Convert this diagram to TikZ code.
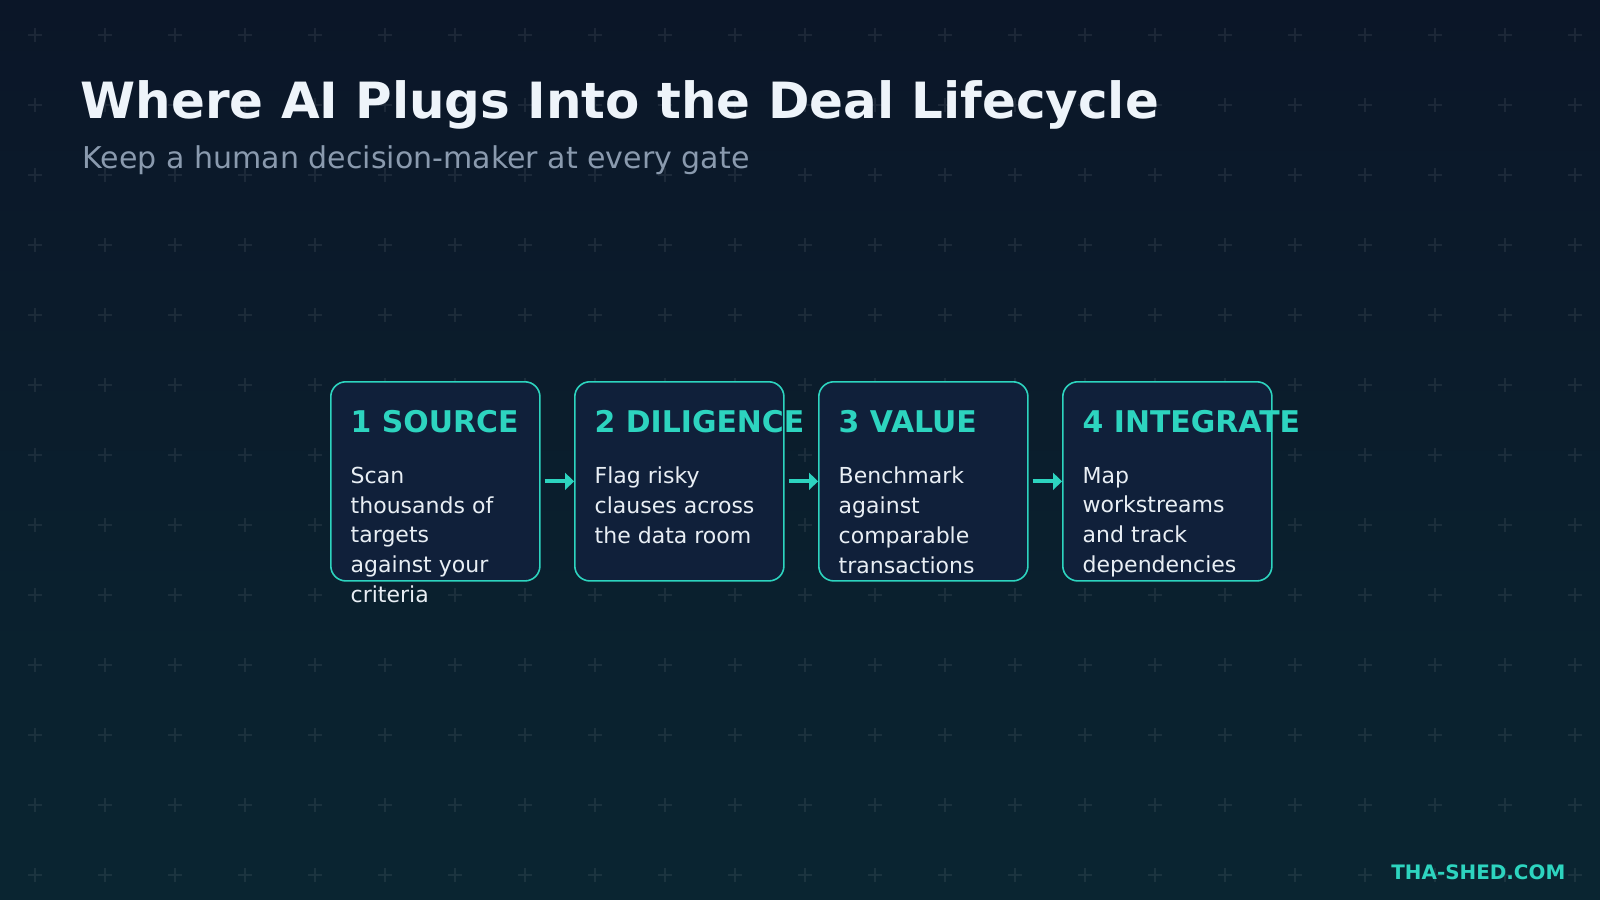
\documentclass[tikz,border=0pt]{standalone}
\usepackage{fontspec}
\setmainfont{DejaVu Sans}
\usetikzlibrary{arrows.meta}

\definecolor{bgtop}{HTML}{0B1628}
\definecolor{bgbot}{HTML}{0A2531}
\definecolor{cardfill}{HTML}{10203A}
\definecolor{accent}{HTML}{2DD4BF}
\definecolor{headwhite}{HTML}{EEF4FA}
\definecolor{subgray}{HTML}{8A9AAE}
\definecolor{bodywhite}{HTML}{E8EEF4}

\tikzset{
	card/.style={draw=accent, line width=0.45pt, fill=cardfill, rounded corners=0.15cm,
		minimum width=2.09cm, minimum height=1.99cm, anchor=north west, inner sep=0},
	cardtitle/.style={text=accent, font=\fontsize{8.5pt}{10pt}\selectfont\bfseries, anchor=base west, inner sep=0},
	cardbody/.style={text=bodywhite, font=\fontsize{6.26pt}{8.45pt}\selectfont, align=left,
		anchor=north west, inner sep=0, execute at begin node=\strut},
	flow/.style={-{Triangle[length=0.09cm,width=0.17cm]}, accent, line width=1.1pt, shorten <=0.04cm},
	gridmark/.style={white, opacity=0.07, line width=0.45pt}
}

\begin{document}
\begin{tikzpicture}[x=0.01cm,y=-0.01cm]
% background
\shade[top color=bgtop, bottom color=bgbot] (0,0) rectangle (1600,900);
\useasboundingbox (0,0) rectangle (1600,900);
\foreach \gx in {0,...,22}
	\foreach \gy in {0,...,12}
		\draw[gridmark] (28+70*\gx,35+70*\gy) -- ++(14,0) (35+70*\gx,28+70*\gy) -- ++(0,14);

% heading
\node[text=headwhite, font=\fontsize{14.2pt}{17pt}\selectfont\bfseries, anchor=base west, inner sep=0]
	(head) at (80,118) {Where AI Plugs Into the Deal Lifecycle};
\node[text=subgray, font=\fontsize{8.54pt}{10pt}\selectfont, anchor=base west, inner sep=0]
	(sub) at (82,168) {Keep a human decision-maker at every gate};

% stages
\foreach \n/\ttl/\txt in {
	1/{1 SOURCE}/{Scan\\thousands of\\targets\\against your\\criteria},
	2/{2 DILIGENCE}/{Flag risky\\clauses across\\the data room},
	3/{3 VALUE}/{Benchmark\\against\\comparable\\transactions},
	4/{4 INTEGRATE}/{Map\\workstreams\\and track\\dependencies}}
{
	\pgfmathsetmacro\bx{330+244*(\n-1)}
	\node[card] (card\n) at (\bx,381) {};
	\node[cardtitle] (ttl\n) at (\bx+20,432) {\ttl};
	\node[cardbody] (txt\n) at (\bx+20,466.5) {\txt};
}
\foreach \a/\b in {1/2,2/3,3/4}
	\draw[flow] (card\a.east) -- (card\b.west);

% footer
\node[text=accent, font=\fontsize{5.66pt}{7pt}\selectfont\bfseries, anchor=base east, inner sep=0]
	(site) at (1566,879) {THA-SHED.COM};
\end{tikzpicture}
\end{document}
